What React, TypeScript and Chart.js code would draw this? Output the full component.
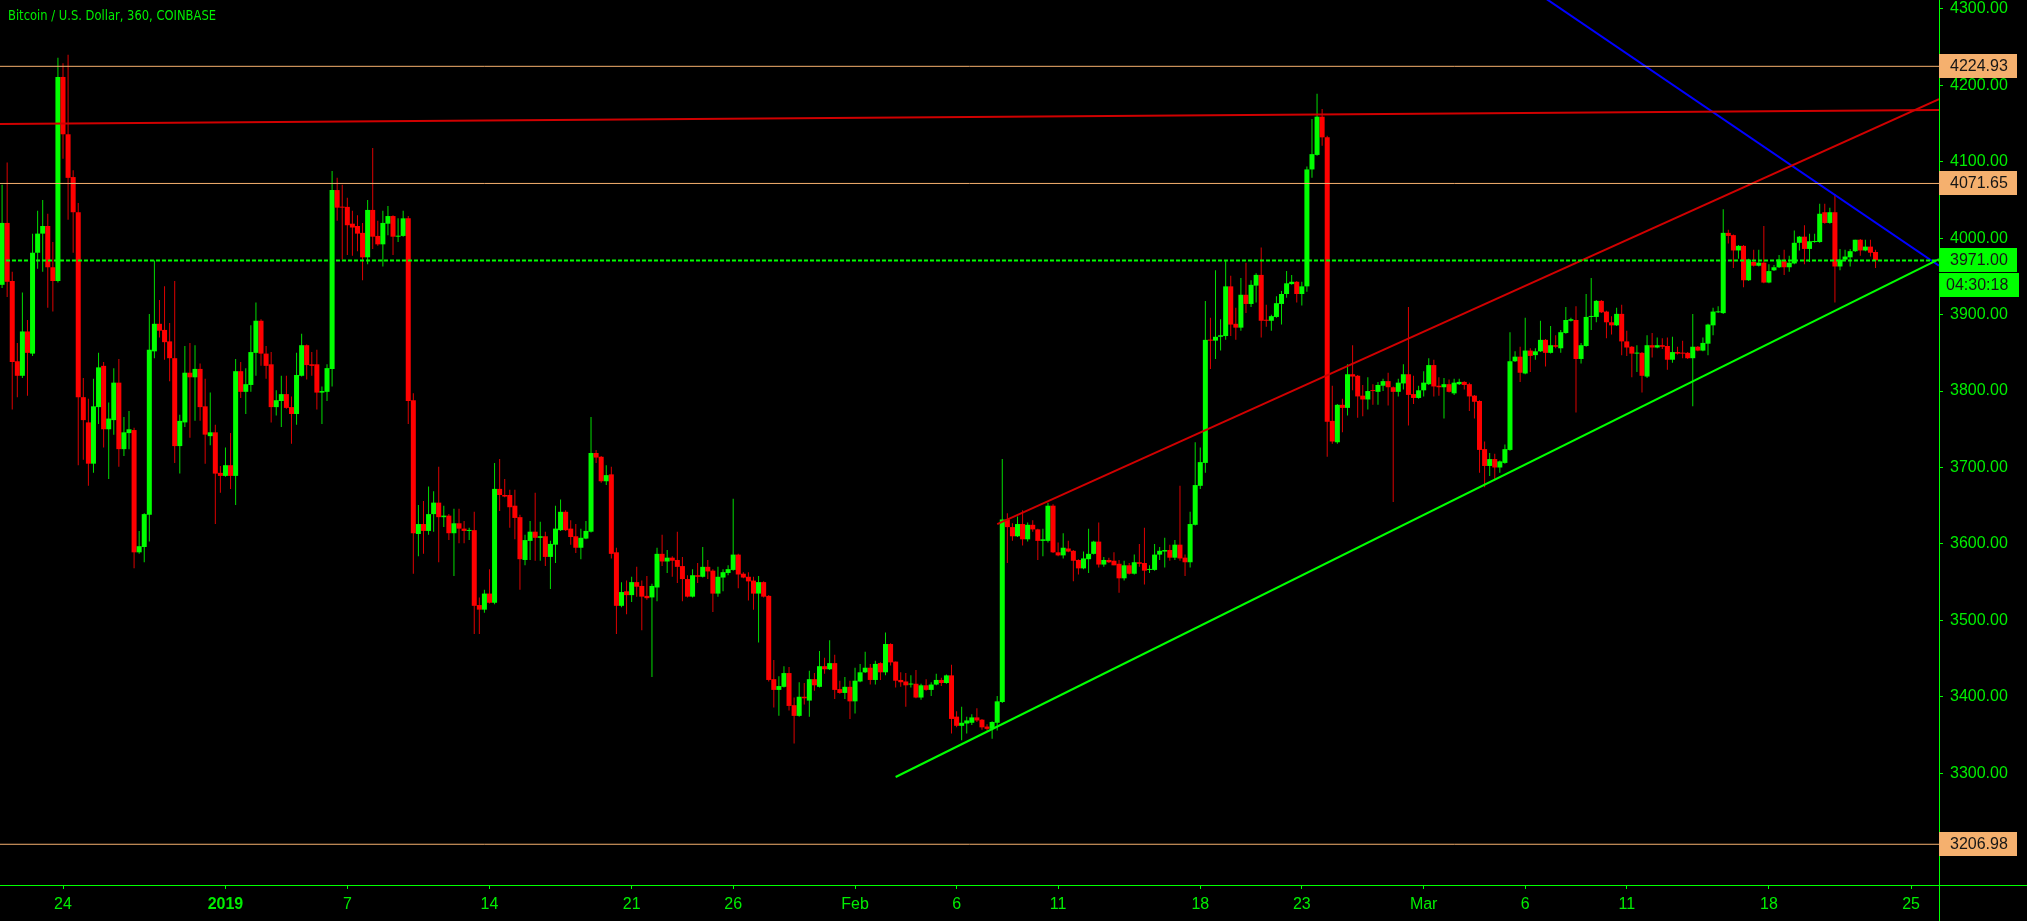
import React, { useEffect, useRef } from 'react';
import { Chart, registerables } from 'chart.js';

Chart.register(...registerables);

const SYMBOL_TITLE = 'Bitcoin / U.S. Dollar, 360, COINBASE';
const FIRST_BAR_UTC = Date.UTC(2018, 11, 21, 0, 0, 0);
const BAR_MS = 6 * 3600 * 1000;

// 6-hour bars from 21 Dec 2018 00:00, each [open, high, low, close]
const bars: [number, number, number, number][] = [
  [3939, 4070, 3935, 4020], [4020, 4099, 3923, 3943], [3944, 3956, 3776, 3838], [3839, 3863, 3792, 3820],
  [3820, 3929, 3817, 3878], [3878, 3893, 3794, 3850], [3849, 4006, 3846, 3981], [3981, 4036, 3960, 4006],
  [4006, 4050, 3956, 4016], [4016, 4032, 3909, 3962], [3962, 3995, 3904, 3944], [3944, 4236, 3942, 4211],
  [4211, 4229, 4104, 4136], [4136, 4240, 4024, 4079], [4080, 4089, 3981, 4034], [4034, 4046, 3703, 3792],
  [3792, 3817, 3710, 3762], [3759, 3790, 3676, 3705], [3705, 3816, 3693, 3780], [3779, 3850, 3757, 3831],
  [3833, 3838, 3726, 3750], [3750, 3785, 3685, 3764], [3762, 3830, 3743, 3811], [3811, 3842, 3701, 3724],
  [3724, 3766, 3715, 3746], [3745, 3774, 3724, 3750], [3749, 3752, 3568, 3589], [3589, 3617, 3587, 3597],
  [3596, 3640, 3576, 3639], [3638, 3901, 3603, 3854], [3852, 3971, 3843, 3888], [3888, 3919, 3870, 3879],
  [3880, 3937, 3841, 3864], [3865, 3889, 3813, 3843], [3843, 3944, 3706, 3728], [3728, 3769, 3692, 3761],
  [3759, 3859, 3753, 3824], [3824, 3863, 3739, 3818], [3818, 3860, 3761, 3829], [3829, 3836, 3761, 3779],
  [3780, 3816, 3705, 3743], [3741, 3798, 3729, 3746], [3746, 3756, 3626, 3692], [3693, 3702, 3667, 3689],
  [3689, 3726, 3688, 3703], [3703, 3745, 3672, 3689], [3689, 3842, 3651, 3826], [3826, 3838, 3791, 3799],
  [3799, 3830, 3770, 3809], [3808, 3886, 3799, 3851], [3850, 3916, 3820, 3892], [3892, 3894, 3833, 3849],
  [3849, 3859, 3816, 3833], [3835, 3851, 3759, 3779], [3779, 3801, 3768, 3788], [3787, 3820, 3753, 3796],
  [3796, 3820, 3777, 3778], [3779, 3793, 3731, 3770], [3770, 3850, 3756, 3821], [3820, 3875, 3819, 3860],
  [3860, 3861, 3815, 3834], [3835, 3851, 3820, 3833], [3835, 3854, 3776, 3798], [3798, 3806, 3757, 3800],
  [3799, 3835, 3787, 3830], [3829, 4088, 3806, 4063], [4063, 4079, 4023, 4040], [4041, 4070, 3972, 4040],
  [4041, 4053, 3978, 4017], [4019, 4036, 3977, 4014], [4016, 4030, 3983, 4006], [4007, 4020, 3945, 3975],
  [3975, 4050, 3966, 4037], [4037, 4118, 3986, 4002], [4003, 4023, 3990, 3992], [3992, 4036, 3963, 4020],
  [4019, 4042, 4004, 4029], [4029, 4030, 3978, 4002], [4002, 4026, 3995, 4003], [4003, 4036, 4002, 4026],
  [4026, 4029, 3757, 3787], [3788, 3797, 3561, 3614], [3613, 3651, 3584, 3626], [3626, 3656, 3587, 3617],
  [3617, 3675, 3612, 3639], [3639, 3669, 3616, 3654], [3654, 3701, 3576, 3635], [3635, 3650, 3622, 3637],
  [3637, 3639, 3605, 3614], [3614, 3646, 3558, 3627], [3627, 3646, 3601, 3620], [3620, 3630, 3601, 3617],
  [3617, 3621, 3605, 3618], [3618, 3642, 3482, 3519], [3520, 3530, 3482, 3514], [3514, 3540, 3510, 3535],
  [3535, 3567, 3522, 3523], [3523, 3706, 3521, 3672], [3672, 3711, 3643, 3664], [3664, 3685, 3661, 3662],
  [3664, 3671, 3621, 3648], [3650, 3671, 3606, 3634], [3635, 3638, 3540, 3580], [3579, 3612, 3572, 3605],
  [3604, 3630, 3579, 3616], [3616, 3667, 3578, 3608], [3608, 3629, 3578, 3610], [3610, 3616, 3571, 3583],
  [3583, 3604, 3541, 3600], [3599, 3650, 3575, 3620], [3618, 3658, 3617, 3642], [3642, 3644, 3617, 3618],
  [3620, 3631, 3599, 3609], [3610, 3626, 3588, 3595], [3595, 3620, 3580, 3608], [3607, 3630, 3606, 3617],
  [3616, 3766, 3615, 3719], [3719, 3723, 3706, 3713], [3714, 3715, 3680, 3682], [3682, 3703, 3677, 3690],
  [3691, 3701, 3581, 3587], [3589, 3595, 3482, 3519], [3519, 3550, 3517, 3537], [3538, 3552, 3508, 3533],
  [3533, 3557, 3524, 3550], [3550, 3570, 3531, 3544], [3545, 3552, 3487, 3531], [3532, 3558, 3527, 3529],
  [3530, 3548, 3426, 3545], [3543, 3595, 3525, 3587], [3587, 3612, 3571, 3577], [3577, 3592, 3562, 3582],
  [3582, 3584, 3557, 3578], [3579, 3616, 3549, 3570], [3571, 3583, 3525, 3554], [3554, 3559, 3530, 3531],
  [3531, 3567, 3530, 3559], [3559, 3575, 3549, 3557], [3557, 3596, 3556, 3570], [3570, 3579, 3554, 3564],
  [3565, 3567, 3511, 3535], [3535, 3570, 3531, 3557], [3556, 3567, 3538, 3563], [3562, 3572, 3559, 3567],
  [3566, 3659, 3565, 3586], [3586, 3587, 3542, 3560], [3561, 3563, 3555, 3556], [3557, 3563, 3526, 3551],
  [3552, 3557, 3514, 3535], [3535, 3558, 3471, 3550], [3550, 3551, 3530, 3531], [3532, 3533, 3420, 3422],
  [3423, 3448, 3386, 3409], [3409, 3427, 3375, 3414], [3413, 3440, 3412, 3431], [3431, 3439, 3382, 3388],
  [3389, 3399, 3339, 3375], [3375, 3419, 3374, 3400], [3400, 3418, 3390, 3398], [3395, 3434, 3374, 3423],
  [3423, 3431, 3408, 3415], [3413, 3460, 3412, 3440], [3440, 3451, 3430, 3436], [3436, 3474, 3435, 3444],
  [3444, 3455, 3397, 3409], [3410, 3421, 3404, 3405], [3405, 3426, 3397, 3413], [3413, 3421, 3371, 3394],
  [3394, 3438, 3378, 3421], [3420, 3443, 3419, 3432], [3432, 3459, 3431, 3438], [3438, 3443, 3416, 3422],
  [3422, 3447, 3416, 3443], [3444, 3445, 3422, 3432], [3432, 3484, 3428, 3469], [3469, 3470, 3441, 3445],
  [3446, 3446, 3412, 3421], [3422, 3432, 3413, 3419], [3420, 3431, 3387, 3415], [3416, 3428, 3412, 3417],
  [3417, 3435, 3398, 3399], [3399, 3417, 3396, 3415], [3415, 3423, 3408, 3409], [3409, 3419, 3401, 3416],
  [3416, 3430, 3415, 3422], [3422, 3425, 3414, 3418], [3418, 3429, 3417, 3428], [3428, 3442, 3352, 3371],
  [3374, 3381, 3360, 3362], [3362, 3387, 3343, 3366], [3365, 3374, 3352, 3369], [3366, 3377, 3363, 3373],
  [3373, 3385, 3367, 3369], [3370, 3371, 3357, 3360], [3361, 3364, 3356, 3358], [3358, 3368, 3345, 3367],
  [3366, 3401, 3356, 3394], [3393, 3711, 3392, 3632], [3632, 3640, 3575, 3622], [3622, 3627, 3604, 3610],
  [3610, 3636, 3609, 3626], [3626, 3644, 3598, 3606], [3606, 3628, 3603, 3625], [3625, 3631, 3616, 3619],
  [3619, 3620, 3579, 3604], [3604, 3620, 3584, 3606], [3604, 3654, 3602, 3650], [3650, 3652, 3588, 3589],
  [3589, 3602, 3584, 3585], [3585, 3614, 3581, 3595], [3594, 3604, 3589, 3590], [3591, 3592, 3551, 3578],
  [3579, 3580, 3560, 3568], [3568, 3590, 3567, 3581], [3580, 3620, 3562, 3587], [3587, 3604, 3586, 3603],
  [3603, 3628, 3569, 3573], [3573, 3583, 3570, 3579], [3579, 3582, 3575, 3576], [3578, 3589, 3572, 3572],
  [3574, 3579, 3536, 3555], [3555, 3578, 3552, 3572], [3572, 3575, 3560, 3561], [3561, 3586, 3560, 3576],
  [3576, 3600, 3570, 3574], [3575, 3621, 3547, 3565], [3566, 3572, 3562, 3567], [3566, 3600, 3565, 3586],
  [3586, 3596, 3579, 3591], [3590, 3608, 3569, 3592], [3592, 3599, 3578, 3582], [3582, 3605, 3579, 3599],
  [3599, 3676, 3578, 3581], [3582, 3586, 3558, 3576], [3576, 3642, 3569, 3626], [3625, 3733, 3624, 3677],
  [3676, 3726, 3672, 3707], [3706, 3918, 3693, 3867], [3867, 3896, 3829, 3866], [3866, 3958, 3842, 3871],
  [3871, 3894, 3853, 3873], [3872, 3971, 3867, 3937], [3937, 3951, 3872, 3887], [3888, 3909, 3867, 3883],
  [3883, 3948, 3879, 3926], [3926, 3968, 3902, 3914], [3914, 3945, 3910, 3939], [3938, 3954, 3916, 3952],
  [3952, 3988, 3870, 3892], [3893, 3913, 3884, 3892], [3892, 3900, 3879, 3898], [3897, 3924, 3896, 3915],
  [3914, 3931, 3887, 3927], [3927, 3957, 3922, 3941], [3940, 3952, 3939, 3943], [3943, 3944, 3916, 3927],
  [3927, 3943, 3912, 3937], [3937, 4094, 3930, 4090], [4090, 4156, 4079, 4110], [4109, 4189, 4108, 4159],
  [4159, 4169, 4121, 4132], [4132, 4134, 3714, 3760], [3761, 3807, 3731, 3734], [3733, 3783, 3731, 3782],
  [3782, 3790, 3746, 3778], [3778, 3835, 3768, 3822], [3822, 3860, 3801, 3819], [3820, 3821, 3765, 3793],
  [3794, 3808, 3767, 3789], [3789, 3818, 3776, 3800], [3801, 3809, 3782, 3800], [3799, 3812, 3782, 3808],
  [3807, 3816, 3800, 3813], [3813, 3824, 3781, 3805], [3805, 3806, 3655, 3799], [3799, 3816, 3793, 3811],
  [3810, 3835, 3802, 3822], [3822, 3910, 3755, 3795], [3796, 3820, 3783, 3791], [3791, 3807, 3790, 3801],
  [3801, 3826, 3793, 3811], [3809, 3843, 3808, 3834], [3834, 3841, 3793, 3806], [3807, 3818, 3794, 3805],
  [3805, 3817, 3764, 3809], [3809, 3815, 3798, 3799], [3797, 3816, 3795, 3811], [3809, 3816, 3808, 3812],
  [3812, 3813, 3802, 3808], [3809, 3811, 3774, 3793], [3794, 3795, 3764, 3786], [3787, 3788, 3693, 3723],
  [3724, 3734, 3674, 3702], [3702, 3719, 3689, 3711], [3711, 3718, 3685, 3700], [3700, 3709, 3693, 3708],
  [3706, 3730, 3705, 3724], [3723, 3877, 3722, 3839], [3839, 3852, 3838, 3845], [3845, 3858, 3812, 3824],
  [3823, 3896, 3822, 3853], [3853, 3856, 3825, 3846], [3847, 3856, 3841, 3852], [3852, 3892, 3851, 3867],
  [3867, 3868, 3832, 3850], [3850, 3885, 3849, 3860], [3860, 3873, 3856, 3858], [3856, 3880, 3850, 3877],
  [3876, 3910, 3875, 3893], [3892, 3896, 3891, 3894], [3893, 3911, 3772, 3842], [3842, 3863, 3836, 3860],
  [3859, 3927, 3858, 3897], [3897, 3948, 3880, 3898], [3897, 3919, 3890, 3918], [3918, 3919, 3902, 3903],
  [3904, 3905, 3869, 3890], [3890, 3898, 3874, 3886], [3886, 3909, 3885, 3901], [3901, 3913, 3847, 3865],
  [3865, 3879, 3846, 3857], [3858, 3859, 3818, 3849], [3849, 3860, 3825, 3850], [3850, 3851, 3798, 3820],
  [3819, 3873, 3817, 3860], [3860, 3876, 3844, 3857], [3857, 3870, 3856, 3860], [3860, 3869, 3855, 3858],
  [3859, 3870, 3828, 3841], [3841, 3871, 3837, 3851], [3851, 3858, 3848, 3849], [3850, 3866, 3843, 3849],
  [3850, 3851, 3842, 3843], [3843, 3901, 3780, 3858], [3858, 3859, 3852, 3853], [3853, 3870, 3852, 3863],
  [3862, 3888, 3847, 3887], [3886, 3909, 3873, 3904], [3903, 3911, 3902, 3904], [3902, 4038, 3901, 4007],
  [4007, 4011, 3993, 4003], [4004, 4005, 3961, 3984], [3984, 3991, 3973, 3990], [3990, 3991, 3936, 3945],
  [3945, 3973, 3944, 3972], [3969, 3985, 3963, 3964], [3964, 3985, 3963, 3968], [3968, 4016, 3941, 3942],
  [3942, 3966, 3941, 3957], [3958, 3965, 3957, 3962], [3962, 3978, 3961, 3972], [3970, 3985, 3952, 3962],
  [3962, 3977, 3956, 3968], [3967, 4010, 3966, 3994], [3994, 4003, 3984, 4002], [4002, 4017, 3966, 3986],
  [3986, 4006, 3969, 3996], [3995, 4006, 3994, 3996], [3995, 4045, 3994, 4032], [4034, 4045, 4019, 4020],
  [4020, 4040, 4019, 4034], [4034, 4058, 3916, 3963], [3963, 3986, 3958, 3972], [3972, 3985, 3971, 3976],
  [3975, 3986, 3963, 3983], [3983, 3998, 3982, 3998], [3998, 3999, 3977, 3984], [3984, 3998, 3983, 3989],
  [3989, 3998, 3976, 3981], [3982, 3985, 3961, 3971],
];

// Time axis: day marks and their captions
const tickDates = [
  '2018-12-24', '2019-01-01', '2019-01-07', '2019-01-14', '2019-01-21', '2019-01-26', '2019-02-01', '2019-02-06',
  '2019-02-11', '2019-02-18', '2019-02-23', '2019-03-01', '2019-03-06', '2019-03-11', '2019-03-18', '2019-03-25',
];
const tickLabels = ['24', '2019', '7', '14', '21', '26', 'Feb', '6', '11', '18', '23', 'Mar', '6', '11', '18', '25'];

// Price axis marks
const priceTicks = [3300, 3400, 3500, 3600, 3700, 3800, 3900, 4000, 4100, 4200, 4300];

// Horizontal support / resistance levels
const levelPrices = [4224.93, 4071.65, 3206.98];
const lastPrice = 3971.0;
const barCountdown = '04:30:18';

// Trend lines as [bar index, price] end points
const flatResistance: [number, number][] = [[-0.41, 4149.4], [381.5, 4167.8]];
const channelTop: [number, number][] = [[196, 3626], [381.5, 4182]];
const risingSupport: [number, number][] = [[176, 3295], [381.5, 3972.5]];
const fallingResistance: [number, number][] = [[290, 4377], [381.5, 3964]];

// Visible window
const X_RANGE = [-0.41, 381.5];
const Y_RANGE = [3153.7, 4311.7];

const LIME = '#00ff00';
const TEXT_GREEN = '#00ee00';
const UP = '#00ff00';
const DOWN = '#ff0000';
const WICK_UP = '#00dd00';
const WICK_DOWN = '#dd0000';
const ORANGE = '#f5b06e';
const TREND_RED = '#d00000';
const TREND_BLUE = '#0000ff';
const FONT = '"Liberation Sans", Arial, sans-serif';

const dateToBar = (d: string) => (Date.parse(d + 'T00:00:00Z') - FIRST_BAR_UTC) / BAR_MS;
const tickBars = tickDates.map(dateToBar);
const toPoints = (pts: [number, number][]) => pts.map(([x, y]) => ({ x, y }));

const overlayPlugin = {
  id: 'tvOverlay',
  beforeDraw(chart: any) {
    const { ctx, width, height } = chart;
    ctx.save();
    ctx.fillStyle = '#000000';
    ctx.fillRect(0, 0, width, height);
    ctx.restore();
  },
  afterDraw(chart: any) {
    const { ctx, chartArea, scales } = chart;
    const yScale = scales.y;
    const right = chartArea.right;
    ctx.save();

    // axis lines continue to the canvas edges
    ctx.strokeStyle = LIME;
    ctx.lineWidth = 1;
    ctx.beginPath();
    ctx.moveTo(right + 0.5, chartArea.bottom);
    ctx.lineTo(right + 0.5, chart.height);
    ctx.moveTo(right, chartArea.bottom + 0.5);
    ctx.lineTo(chart.width, chartArea.bottom + 0.5);
    ctx.stroke();

    // symbol caption
    ctx.font = '14px "DejaVu Sans", sans-serif';
    ctx.fillStyle = TEXT_GREEN;
    ctx.textBaseline = 'middle';
    ctx.textAlign = 'left';
    const w = ctx.measureText(SYMBOL_TITLE).width;
    ctx.save();
    ctx.translate(8, 16);
    ctx.scale(208 / w, 1);
    ctx.fillText(SYMBOL_TITLE, 0, 0);
    ctx.restore();

    // price tags on the axis
    ctx.font = '16px ' + FONT;
    const tag = (price: number, bg: string, text: string) => {
      const py = Math.round(yScale.getPixelForValue(price));
      ctx.fillStyle = bg;
      ctx.fillRect(right, py - 12, 78, 24);
      ctx.fillStyle = '#161616';
      ctx.fillText(text, right + 11, py + 1);
      return py;
    };
    levelPrices.forEach((p) => tag(p, ORANGE, p.toFixed(2)));
    const lastY = tag(lastPrice, UP, lastPrice.toFixed(2));

    // time left in the current bar
    ctx.fillStyle = '#000000';
    ctx.fillRect(right, lastY + 12, 80, 1);
    ctx.fillStyle = UP;
    ctx.fillRect(right, lastY + 13, 80, 24);
    ctx.fillStyle = '#161616';
    ctx.fillText(barCountdown, right + 7, lastY + 26);
    ctx.restore();
  },
};

export default function App() {
  const canvasRef = useRef<HTMLCanvasElement | null>(null);

  useEffect(() => {
    document.body.style.margin = '0';
    document.body.style.background = '#000';
    const canvas = canvasRef.current;
    if (!canvas) return;

    const rising = bars.map((b) => b[3] >= b[0]);
    const lineDs = (pts: [number, number][], color: string, width: number, dash: number[] = []) => ({
      type: 'line' as const,
      data: toPoints(pts),
      borderColor: color,
      borderWidth: width,
      borderDash: dash,
      pointRadius: 0,
      fill: false,
      tension: 0,
      order: 0,
    });

    const chart = new Chart(canvas, {
      type: 'bar',
      data: {
        datasets: [
          ...levelPrices.map((p) => lineDs([[X_RANGE[0], p], [X_RANGE[1], p]], ORANGE, 1)),
          lineDs([[X_RANGE[0], lastPrice], [X_RANGE[1], lastPrice]], LIME, 2, [4, 2]),
          lineDs(flatResistance, TREND_RED, 2),
          lineDs(channelTop, TREND_RED, 2),
          lineDs(risingSupport, LIME, 2),
          lineDs(fallingResistance, TREND_BLUE, 2),
          {
            type: 'bar' as const,
            data: bars.map((b, i) => ({ x: i, y: [b[0], b[3]] })) as any,
            backgroundColor: rising.map((u) => (u ? UP : DOWN)),
            barThickness: 5,
            minBarLength: 1,
            grouped: false,
            inflateAmount: 0,
            borderWidth: 0,
            order: 1,
          },
          {
            type: 'bar' as const,
            data: bars.map((b, i) => ({ x: i, y: [b[2], b[1]] })) as any,
            backgroundColor: rising.map((u) => (u ? WICK_UP : WICK_DOWN)),
            barThickness: 1,
            grouped: false,
            inflateAmount: 0,
            borderWidth: 0,
            order: 2,
          },
        ] as any,
      },
      options: {
        responsive: false,
        maintainAspectRatio: false,
        devicePixelRatio: 1,
        animation: false,
        events: [],
        layout: { padding: 0 },
        plugins: { legend: { display: false }, tooltip: { enabled: false }, title: { display: false } },
        scales: {
          x: {
            type: 'linear',
            min: X_RANGE[0],
            max: X_RANGE[1],
            offset: false,
            bounds: 'data',
            afterBuildTicks: (s: any) => {
              s.ticks = tickBars.map((v) => ({ value: v }));
            },
            afterFit: (s: any) => {
              s.height = 36;
              s.paddingLeft = 0;
              s.paddingRight = 0;
              s.paddingTop = 0;
              s.paddingBottom = 0;
            },
            ticks: {
              autoSkip: false,
              maxRotation: 0,
              minRotation: 0,
              padding: 6,
              color: TEXT_GREEN,
              font: (c: any) => ({ family: FONT, size: 16, weight: tickLabels[c.index] === '2019' ? 'bold' : 'normal' }),
              callback: (_v: any, i: number) => tickLabels[i],
            },
            grid: { display: true, offset: false, drawOnChartArea: false, drawTicks: true, tickLength: 4, color: LIME },
            border: { display: true, color: LIME, width: 1 },
          },
          y: {
            type: 'linear',
            position: 'right',
            min: Y_RANGE[0],
            max: Y_RANGE[1],
            bounds: 'data',
            afterBuildTicks: (s: any) => {
              s.ticks = priceTicks.map((v) => ({ value: v }));
            },
            afterFit: (s: any) => {
              s.width = 88;
              s.paddingTop = 0;
              s.paddingBottom = 0;
              s.paddingLeft = 0;
              s.paddingRight = 0;
            },
            ticks: {
              padding: 7,
              color: TEXT_GREEN,
              font: { family: FONT, size: 16 },
              callback: (v: any) => Number(v).toFixed(2),
            },
            grid: { display: true, offset: false, drawOnChartArea: false, drawTicks: true, tickLength: 4, color: LIME },
            border: { display: true, color: LIME, width: 1 },
          },
        },
      } as any,
      plugins: [overlayPlugin],
    });

    return () => chart.destroy();
  }, []);

  return (
    <div style={{ width: 2027, height: 921, background: '#000' }}>
      <canvas ref={canvasRef} width={2027} height={921} style={{ display: 'block' }} />
    </div>
  );
}
